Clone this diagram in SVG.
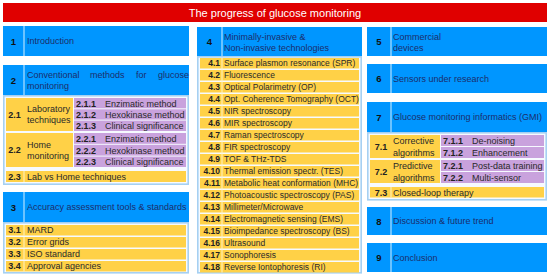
<svg xmlns="http://www.w3.org/2000/svg" width="550" height="277" viewBox="0 0 550 277">
<style>
.t{font-family:"Liberation Sans",Arial,sans-serif}
.blue{fill:#0096ff}
.cont{fill:#f6faff;stroke:#a6d0f2;stroke-width:1.6}
.yel{fill:#ffd147}
.pur{fill:#c9a2dd}
.dv{stroke:#8fd2ff;stroke-width:1.5}
.lbl{font-size:9px;fill:#1c2d6b}
.num{font-size:9.5px;font-weight:bold;fill:#111;text-anchor:middle}
.rn{font-size:8.5px;font-weight:bold;fill:#222}
.rt{font-size:8.5px;fill:#2a2a2a}
.rn9{font-size:9px;font-weight:bold;fill:#222}
.rt9{font-size:9px;fill:#2a2a2a}
.mid{text-anchor:middle}
.end{text-anchor:end}
</style>
<rect width="550" height="277" fill="#ffffff"/>
<g id="title">
<rect x="3" y="3" width="544" height="19" fill="#e00000"/>
<text class="t" x="275" y="16.5" font-size="11" fill="#ffffff" text-anchor="middle">The progress of glucose monitoring</text>
</g>
<g id="connectors"></g>

<!-- Column 1 -->
<g id="n1">
<rect class="blue" x="3" y="26" width="186" height="30"/>
<line class="dv" x1="24" y1="26" x2="24" y2="56"/>
<text class="t num" x="13.5" y="44.5">1</text>
<text class="t lbl" x="27" y="44">Introduction</text>
</g>
<g id="n2">
<rect class="blue" x="3" y="65" width="186" height="30"/>
<line class="dv" x1="24" y1="65" x2="24" y2="95"/>
<text class="t num" x="13.5" y="83.5">2</text>
<text class="t lbl" y="78"><tspan x="27">Conventional</tspan><tspan x="90">methods</tspan><tspan x="136">for</tspan><tspan x="158">glucose</tspan></text>
<text class="t lbl" x="27" y="89">monitoring</text>
</g>
<g id="n2sub">
<rect class="cont" x="3.8" y="95.8" width="184.4" height="88.4"/>
<rect class="yel" x="6" y="98" width="67" height="33"/>
<text class="t rn9 mid" x="14.5" y="118">2.1</text>
<text class="t rt9" x="27" y="112">Laboratory</text>
<text class="t rt9" x="27" y="122.5">techniques</text>
<rect class="pur" x="74" y="98" width="112" height="10.3"/>
<rect class="pur" x="74" y="109.3" width="112" height="10.3"/>
<rect class="pur" x="74" y="120.6" width="112" height="10.4"/>
<text class="t rn9" x="76" y="106.5">2.1.1</text><text class="t rt9" x="105" y="106.5">Enzimatic method</text>
<text class="t rn9" x="76" y="117.8">2.1.2</text><text class="t rt9" x="105" y="117.8">Hexokinase method</text>
<text class="t rn9" x="76" y="129.1">2.1.3</text><text class="t rt9" x="105" y="129.1">Clinical significance</text>
<rect class="yel" x="6" y="133" width="67" height="34"/>
<text class="t rn9 mid" x="14.5" y="153">2.2</text>
<text class="t rt9" x="27" y="148">Home</text>
<text class="t rt9" x="27" y="159">monitoring</text>
<rect class="pur" x="74" y="133" width="112" height="10.8"/>
<rect class="pur" x="74" y="144.8" width="112" height="10.8"/>
<rect class="pur" x="74" y="156.6" width="112" height="10.4"/>
<text class="t rn9" x="76" y="141.7">2.2.1</text><text class="t rt9" x="105" y="141.7">Enzimatic method</text>
<text class="t rn9" x="76" y="153.5">2.2.2</text><text class="t rt9" x="105" y="153.5">Hexokinase method</text>
<text class="t rn9" x="76" y="165">2.2.3</text><text class="t rt9" x="105" y="165">Clinical significance</text>
<rect class="yel" x="6" y="171" width="180" height="11"/>
<line x1="24" y1="171" x2="24" y2="182" stroke="#fff3c4" stroke-width="1"/>
<text class="t rn9 mid" x="14.5" y="180">2.3</text>
<text class="t rt9" x="27" y="180">Lab vs Home techniques</text>
</g>
<g id="n3">
<rect class="blue" x="3" y="192" width="186" height="30"/>
<line class="dv" x1="24" y1="192" x2="24" y2="222"/>
<text class="t num" x="13.5" y="210.5">3</text>
<text class="t lbl" x="27" y="210">Accuracy assessment tools &amp; standards</text>
</g>
<g id="n3sub">
<rect class="cont" x="3.8" y="222.8" width="184.4" height="50"/>
<rect class="yel" x="6" y="225" width="180" height="10.5"/>
<rect class="yel" x="6" y="237" width="180" height="10.5"/>
<rect class="yel" x="6" y="249" width="180" height="10.5"/>
<rect class="yel" x="6" y="261" width="180" height="10.5"/>
<g stroke="#fff3c4" stroke-width="1"><line x1="24" y1="225" x2="24" y2="235.5"/><line x1="24" y1="237" x2="24" y2="247.5"/><line x1="24" y1="249" x2="24" y2="259.5"/><line x1="24" y1="261" x2="24" y2="271.5"/></g>
<text class="t rn9 mid" x="14.5" y="233.3">3.1</text><text class="t rt9" x="27" y="233.3">MARD</text>
<text class="t rn9 mid" x="14.5" y="245.3">3.2</text><text class="t rt9" x="27" y="245.3">Error grids</text>
<text class="t rn9 mid" x="14.5" y="257.3">3.3</text><text class="t rt9" x="27" y="257.3">ISO standard</text>
<text class="t rn9 mid" x="14.5" y="269.3">3.4</text><text class="t rt9" x="27" y="269.3">Approval agencies</text>
</g>

<!-- Column 2 -->
<g id="n4">
<rect class="blue" x="197" y="27" width="165" height="29"/>
<line class="dv" x1="222" y1="27" x2="222" y2="56"/>
<text class="t num" x="209.5" y="45">4</text>
<text class="t lbl" x="224" y="40">Minimally-invasive &amp;</text>
<text class="t lbl" x="224" y="51">Non-invasive technologies</text>
</g>
<g id="n4sub">
<rect class="cont" x="197.8" y="56.8" width="163.4" height="216"/>
<g class="yel">
<rect x="200" y="58" width="159" height="10.5"/><rect x="200" y="70" width="159" height="10.5"/>
<rect x="200" y="82" width="159" height="10.5"/><rect x="200" y="94" width="159" height="10.5"/>
<rect x="200" y="106" width="159" height="10.5"/><rect x="200" y="118" width="159" height="10.5"/>
<rect x="200" y="130" width="159" height="10.5"/><rect x="200" y="142" width="159" height="10.5"/>
<rect x="200" y="154" width="159" height="10.5"/><rect x="200" y="166" width="159" height="10.5"/>
<rect x="200" y="178" width="159" height="10.5"/><rect x="200" y="190" width="159" height="10.5"/>
<rect x="200" y="202" width="159" height="10.5"/><rect x="200" y="214" width="159" height="10.5"/>
<rect x="200" y="226" width="159" height="10.5"/><rect x="200" y="238" width="159" height="10.5"/>
<rect x="200" y="250" width="159" height="10.5"/><rect x="200" y="262" width="159" height="10.5"/>
</g>
<line x1="222" y1="58" x2="222" y2="272.5" stroke="#fff3c4" stroke-width="1"/>
<g class="t">
<text class="rn end" x="220" y="66.3">4.1</text><text class="rt" x="224" y="66.3">Surface plasmon resonance (SPR)</text>
<text class="rn end" x="220" y="78.3">4.2</text><text class="rt" x="224" y="78.3">Fluorescence</text>
<text class="rn end" x="220" y="90.3">4.3</text><text class="rt" x="224" y="90.3">Optical Polarimetry (OP)</text>
<text class="rn end" x="220" y="102.3">4.4</text><text class="rt" x="224" y="102.3">Opt. Coherence Tomography (OCT)</text>
<text class="rn end" x="220" y="114.3">4.5</text><text class="rt" x="224" y="114.3">NIR spectroscopy</text>
<text class="rn end" x="220" y="126.3">4.6</text><text class="rt" x="224" y="126.3">MIR spectroscopy</text>
<text class="rn end" x="220" y="138.3">4.7</text><text class="rt" x="224" y="138.3">Raman spectroscopy</text>
<text class="rn end" x="220" y="150.3">4.8</text><text class="rt" x="224" y="150.3">FIR spectroscopy</text>
<text class="rn end" x="220" y="162.3">4.9</text><text class="rt" x="224" y="162.3">TOF &amp; THz-TDS</text>
<text class="rn end" x="220" y="174.3">4.10</text><text class="rt" x="224" y="174.3">Thermal emission spectr. (TES)</text>
<text class="rn end" x="220" y="186.3">4.11</text><text class="rt" x="224" y="186.3">Metabolic heat conformation (MHC)</text>
<text class="rn end" x="220" y="198.3">4.12</text><text class="rt" x="224" y="198.3">Photoacoustic spectroscopy (PAS)</text>
<text class="rn end" x="220" y="210.3">4.13</text><text class="rt" x="224" y="210.3">Millimeter/Microwave</text>
<text class="rn end" x="220" y="222.3">4.14</text><text class="rt" x="224" y="222.3">Electromagnetic sensing (EMS)</text>
<text class="rn end" x="220" y="234.3">4.15</text><text class="rt" x="224" y="234.3">Bioimpedance spectroscopy (BS)</text>
<text class="rn end" x="220" y="246.3">4.16</text><text class="rt" x="224" y="246.3">Ultrasound</text>
<text class="rn end" x="220" y="258.3">4.17</text><text class="rt" x="224" y="258.3">Sonophoresis</text>
<text class="rn end" x="220" y="270.3">4.18</text><text class="rt" x="224" y="270.3">Reverse Iontophoresis (RI)</text>
</g>
</g>

<!-- Column 3 -->
<g id="n5">
<rect class="blue" x="367" y="27" width="180" height="29"/>
<line class="dv" x1="391" y1="27" x2="391" y2="56"/>
<text class="t num" x="379" y="45">5</text>
<text class="t lbl" x="393" y="39.5">Commercial</text>
<text class="t lbl" x="393" y="50.5">devices</text>
</g>
<g id="n6">
<rect class="blue" x="367" y="64" width="180" height="29"/>
<line class="dv" x1="391" y1="64" x2="391" y2="93"/>
<text class="t num" x="379" y="82">6</text>
<text class="t lbl" x="393" y="81.5">Sensors under research</text>
</g>
<g id="n7">
<rect class="blue" x="367" y="102" width="180" height="30"/>
<line class="dv" x1="391" y1="102" x2="391" y2="132"/>
<text class="t num" x="379" y="120.5">7</text>
<text class="t lbl" x="393" y="120">Glucose monitoring informatics (GMI)</text>
</g>
<g id="n7sub">
<rect class="cont" x="367.8" y="132.8" width="178.4" height="67"/>
<rect class="yel" x="370" y="135" width="70" height="23"/>
<text class="t rn9 mid" x="381" y="150">7.1</text>
<text class="t rt9" x="393" y="143.5">Corrective</text>
<text class="t rt9" x="393" y="155.5">algorithms</text>
<rect class="pur" x="441" y="135" width="103" height="11"/>
<rect class="pur" x="441" y="147" width="103" height="11"/>
<text class="t rn9" x="443" y="143.5">7.1.1</text><text class="t rt9" x="472" y="143.5">De-noising</text>
<text class="t rn9" x="443" y="155.5">7.1.2</text><text class="t rt9" x="472" y="155.5">Enhancement</text>
<rect class="yel" x="370" y="160" width="70" height="23"/>
<text class="t rn9 mid" x="381" y="175">7.2</text>
<text class="t rt9" x="393" y="168.5">Predictive</text>
<text class="t rt9" x="393" y="180.5">algorithms</text>
<rect class="pur" x="441" y="160" width="103" height="11"/>
<rect class="pur" x="441" y="172" width="103" height="11"/>
<text class="t rn9" x="443" y="168.5">7.2.1</text><text class="t rt9" x="472" y="168.5">Post-data training</text>
<text class="t rn9" x="443" y="180.5">7.2.2</text><text class="t rt9" x="472" y="180.5">Multi-sensor</text>
<rect class="yel" x="370" y="187" width="174" height="10.5"/>
<line x1="391" y1="187" x2="391" y2="197.5" stroke="#fff3c4" stroke-width="1"/>
<text class="t rn9 mid" x="381" y="195.5">7.3</text>
<text class="t rt9" x="393" y="195.5">Closed-loop therapy</text>
</g>
<g id="n8">
<rect class="blue" x="367" y="207" width="180" height="28"/>
<line class="dv" x1="391" y1="207" x2="391" y2="235"/>
<text class="t num" x="379" y="224.5">8</text>
<text class="t lbl" x="393" y="224">Discussion &amp; future trend</text>
</g>
<g id="n9">
<rect class="blue" x="367" y="243" width="180" height="29"/>
<line class="dv" x1="391" y1="243" x2="391" y2="272"/>
<text class="t num" x="379" y="261">9</text>
<text class="t lbl" x="393" y="260.5">Conclusion</text>
</g>
</svg>
